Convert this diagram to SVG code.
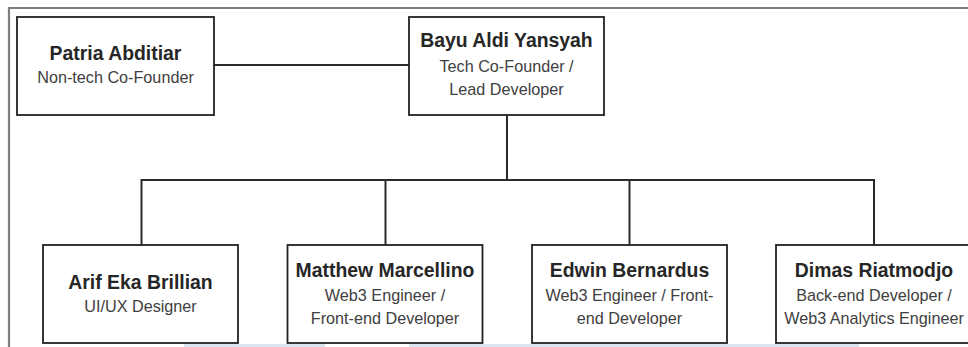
<svg xmlns="http://www.w3.org/2000/svg" width="968" height="347" viewBox="0 0 968 347">
<style>
.box{fill:#fff;stroke:#222;stroke-width:1.8}
.name{font-family:"Liberation Sans",Arial,sans-serif;font-size:19.4px;font-weight:bold;fill:#262626;text-anchor:middle}
.role{font-family:"Liberation Sans",Arial,sans-serif;font-size:16.2px;fill:#404040;text-anchor:middle}
.conn{fill:none;stroke:#2a2a2a;stroke-width:2}
</style>
<rect x="0" y="0" width="968" height="347" fill="#fff"/>
<path d="M968,8 H9 V347" fill="none" stroke="#7f7f7f" stroke-width="2.2"/>
<rect x="184" y="344" width="141" height="3" fill="#dbe5f0"/>
<rect x="409" y="344" width="450" height="3" fill="#dbe5f0"/>
<g id="connectors">
<path class="conn" d="M214,65 H409"/>
<path class="conn" d="M507,115 V180"/>
<path class="conn" d="M141.5,245 V180 H874 V245"/>
<path class="conn" d="M385.5,180 V245"/>
<path class="conn" d="M629.5,180 V245"/>
</g>
<g id="patria">
<rect class="box" x="17" y="17" width="197" height="98"/>
<text class="name" x="115.5" y="60">Patria Abditiar</text>
<text class="role" x="115.5" y="83">Non-tech Co-Founder</text>
</g>
<g id="bayu">
<rect class="box" x="409" y="17" width="195" height="98"/>
<text class="name" x="506.5" y="47">Bayu Aldi Yansyah</text>
<text class="role" x="506.5" y="71.5">Tech Co-Founder /</text>
<text class="role" x="506.5" y="95">Lead Developer</text>
</g>
<g id="arif">
<rect class="box" x="43" y="245" width="195" height="98"/>
<text class="name" x="140.5" y="289">Arif Eka Brillian</text>
<text class="role" x="140.5" y="312">UI/UX Designer</text>
</g>
<g id="matthew">
<rect class="box" x="287.5" y="245" width="195" height="98"/>
<text class="name" x="385" y="277">Matthew Marcellino</text>
<text class="role" x="385" y="300.5">Web3 Engineer /</text>
<text class="role" x="385" y="324">Front-end Developer</text>
</g>
<g id="edwin">
<rect class="box" x="532" y="245" width="195" height="98"/>
<text class="name" x="629.5" y="277">Edwin Bernardus</text>
<text class="role" x="629.5" y="300.5">Web3 Engineer / Front-</text>
<text class="role" x="629.5" y="324">end Developer</text>
</g>
<g id="dimas">
<rect class="box" x="776" y="245" width="196" height="98"/>
<text class="name" x="874" y="277">Dimas Riatmodjo</text>
<text class="role" x="874" y="300.5">Back-end Developer /</text>
<text class="role" x="874" y="324">Web3 Analytics Engineer</text>
</g>
</svg>
